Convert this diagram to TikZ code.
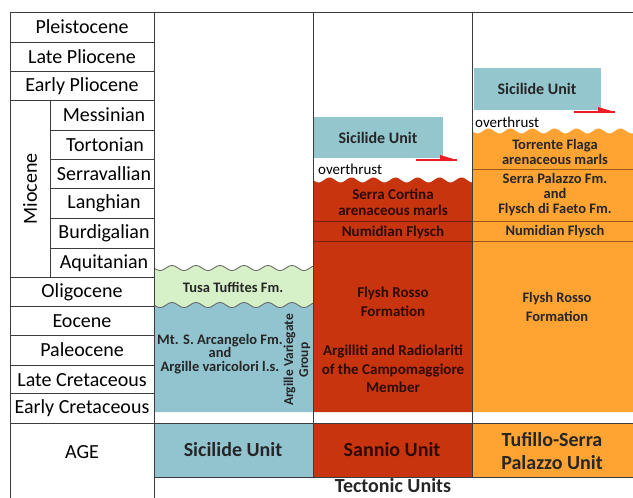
\documentclass[tikz,border=0pt]{standalone}
\usepackage{fontspec}
\setmainfont{Carlito}
\definecolor{lineC}{RGB}{60,60,60}
\definecolor{blueC}{RGB}{146,196,208}
\definecolor{boxC}{RGB}{148,198,205}
\definecolor{greenC}{RGB}{214,240,200}
\definecolor{redC}{RGB}{200,52,14}
\definecolor{orangeC}{RGB}{255,163,51}
\definecolor{arrowC}{RGB}{232,30,36}
\definecolor{darkT}{RGB}{45,10,0}
\definecolor{sepR}{RGB}{120,30,8}
\definecolor{sepO}{RGB}{150,90,20}
\begin{document}
\begin{tikzpicture}[x=1pt,y=-1pt,
  grid/.style={draw=lineC, line width=1pt},
  age/.style={font=\fontsize{20}{22}\selectfont, inner sep=0pt, align=center},
  fm/.style={font=\bfseries\fontsize{14.5}{15}\selectfont, inner sep=0pt, align=center, text=black!85},
  fmr/.style={font=\bfseries\fontsize{15}{18.5}\selectfont, inner sep=0pt, align=center, text=darkT},
  unitbig/.style={font=\bfseries\fontsize{20}{23}\selectfont, inner sep=0pt, align=center},
  unitsm/.style={font=\bfseries\fontsize{16}{18}\selectfont, inner sep=0pt, align=center, text=black!85},
  thrust/.style={font=\fontsize{15}{17}\selectfont, inner sep=0pt, anchor=west},
  harpoon/.style={draw=arrowC, line width=1.8pt},
]
\useasboundingbox (0,0) rectangle (633,498);
\fill[white] (0,0) rectangle (633,498);

% ---- Sicilide column fills
\fill[greenC] plot[domain=154:313, samples=90] (\x, {268+2.5*sin((\x-154)*15)}) -- (313,320) -- (154,320) -- cycle;
\fill[blueC] plot[domain=154:313, samples=90] (\x, {305+2.5*sin((\x-154)*15)}) -- (313,412) -- (154,412) -- cycle;
\draw[lineC!80, line width=0.8pt] plot[domain=154:313, samples=90] (\x, {268+2.5*sin((\x-154)*15)});
\draw[lineC!80, line width=0.8pt] plot[domain=154:313, samples=90] (\x, {305+2.5*sin((\x-154)*15)});

% ---- Sannio column fills
\fill[redC] plot[domain=313:472, samples=90] (\x, {180+2.5*sin((\x-313)*16.36)}) -- (472,412) -- (313,412) -- cycle;
\draw[sepR, line width=1pt] (313,221) -- (472,221);
\draw[sepR, line width=1pt] (313,241) -- (472,241);

% ---- Tufillo column fills
\fill[orangeC] plot[domain=472:633, samples=90] (\x, {131+2.5*sin((\x-472)*16.36)}) -- (633,412) -- (472,412) -- cycle;
\draw[sepO, line width=1pt] (472,169) -- (633,169);
\draw[sepO, line width=1pt] (472,221) -- (633,221);
\draw[sepO, line width=1pt] (472,241) -- (633,241);

% ---- unit boxes
\fill[blueC] (154,423) rectangle (313,477);
\fill[redC] (313,423) rectangle (472,477);
\fill[orangeC] (472,423) rectangle (633,477);

% ---- overthrust Sicilide boxes
\fill[boxC] (313,117) rectangle (443,158);
\fill[boxC] (474,68) rectangle (601,110);

% ---- grid lines
\draw[grid] (10,12) -- (633,12);
\draw[grid] (10,12) -- (10,498);
\draw[grid] (154,12) -- (154,498);
\draw[grid] (313,12) -- (313,477);
\draw[grid] (472,12) -- (472,477);
\draw[grid] (50,100) -- (50,277);
\foreach \yy in {42,71,100,277,306,335,365,393}
  \draw[grid] (10,\yy) -- (154,\yy);
\foreach \yy in {130,159,188,218,248}
  \draw[grid] (50,\yy) -- (154,\yy);
\draw[grid] (10,423) -- (633,423);
\draw[grid] (154,477) -- (633,477);

% ---- harpoons
\coordinate (h1a) at (416,160); \coordinate (h1b) at (457,160);
\draw[harpoon] (h1a) -- (h1b);
\fill[arrowC] (h1b) -- ++(-17,-5) -- ++(0,5) -- cycle;
\coordinate (h2a) at (574,112); \coordinate (h2b) at (615,112);
\draw[harpoon] (h2a) -- (h2b);
\fill[arrowC] (h2b) -- ++(-17,-5) -- ++(0,5) -- cycle;

% ---- age labels
\node[age] (pleist) at (82,27) {Pleistocene};
\node[age] (lplio) at (82,57) {Late Pliocene};
\node[age] (eplio) at (82,86) {Early Pliocene};
\node[age, rotate=90] (mio) at (30,189) {Miocene};
\node[age] (mess) at (104,115) {Messinian};
\node[age] (tort) at (105,145) {Tortonian};
\node[age] (serr) at (104,174) {Serravallian};
\node[age] (lang) at (104,203) {Langhian};
\node[age] (burd) at (104,233) {Burdigalian};
\node[age] (aqui) at (104,263) {Aquitanian};
\node[age] (olig) at (82,292) {Oligocene};
\node[age] (eoc) at (82,321) {Eocene};
\node[age] (pal) at (82,350) {Paleocene};
\node[age] (lcret) at (82,380) {Late Cretaceous};
\node[age] (ecret) at (82,408) {Early Cretaceous};
\node[age] (agelbl) at (82,452) {AGE};

% ---- Sicilide column labels
\node[fm] (tusa) at (233,287) {Tusa Tuffites Fm.};
\node[fm, font=\bfseries\fontsize{14.5}{13.5}\selectfont] (arc) at (220,354) {Mt. S. Arcangelo Fm.\\and\\Argille varicolori l.s.};
\node[fm, rotate=90, font=\bfseries\fontsize{13.5}{15}\selectfont] (avg) at (297,360) {Argille Variegate\\Group};

% ---- Sannio column labels
\node[unitsm] (sic1) at (378,138) {Sicilide Unit};
\node[thrust] (ot1) at (318,169) {overthrust};
\node[fmr, font=\bfseries\fontsize{15}{16}\selectfont] (scort) at (393,202) {Serra Cortina\\arenaceous marls};
\node[fmr] (num1) at (393,232) {Numidian Flysch};
\node[fmr] (fr1) at (393,302) {Flysh Rosso\\Formation};
\node[fmr] (arg) at (393,369) {Argilliti and Radiolariti\\of the Campomaggiore\\Member};

% ---- Tufillo column labels
\node[unitsm] (sic2) at (537,89) {Sicilide Unit};
\node[thrust] (ot2) at (475,122) {overthrust};
\node[fm] (torr) at (555,152) {Torrente Flaga\\arenaceous marls};
\node[fm] (spal) at (555,195) {Serra Palazzo Fm.\\and\\Flysch di Faeto Fm.};
\node[fm] (num2) at (555,232) {Numidian Flysch};
\node[fm, font=\bfseries\fontsize{14.5}{19}\selectfont] (fr2) at (557,307) {Flysh Rosso\\Formation};

% ---- unit row
\node[unitbig, text=black!85] (u1) at (233,450) {Sicilide Unit};
\node[unitbig, text=darkT] (u2) at (392,450) {Sannio Unit};
\node[unitbig, text=black!85] (u3) at (552,451) {Tufillo-Serra\\Palazzo Unit};
\node[unitbig, text=black!85] (tect) at (393,486) {Tectonic Units};
\end{tikzpicture}
\end{document}
